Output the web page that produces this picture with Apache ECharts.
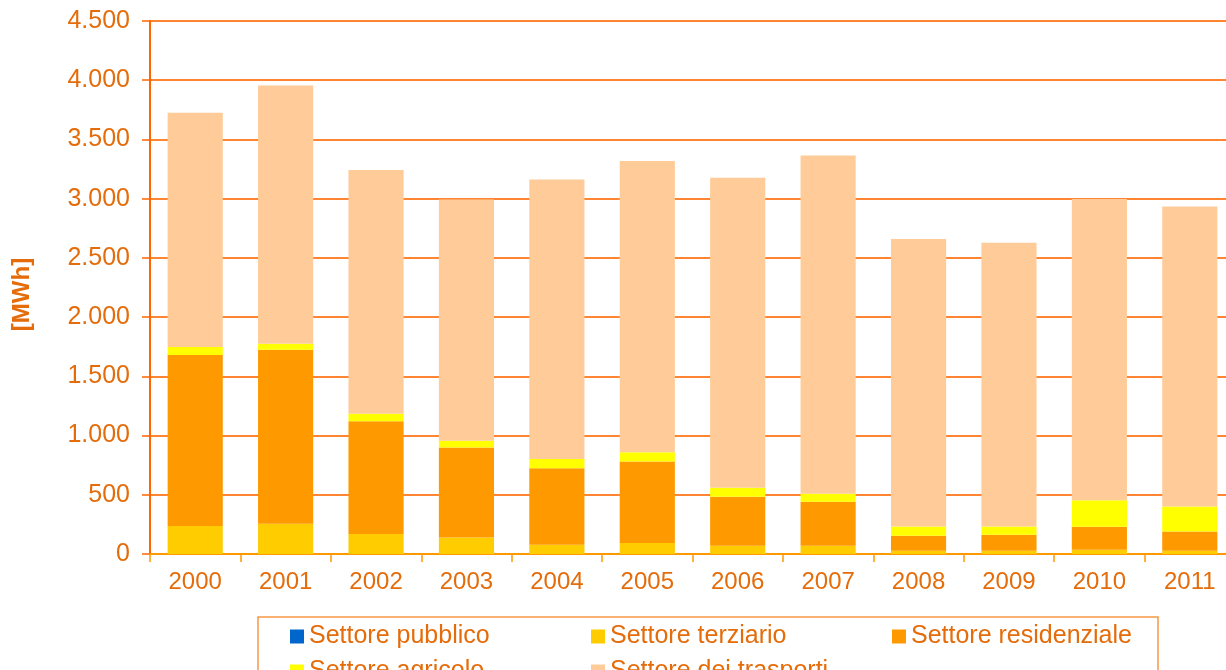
<!DOCTYPE html>
<html>
<head>
<meta charset="utf-8">
<script src="https://cdn.jsdelivr.net/npm/echarts@6/dist/echarts.min.js"></script>
<style>
  html, body { margin: 0; padding: 0; background: #fff; overflow: hidden; }
  #chart { width: 1245px; height: 670px; }
</style>
</head>
<body>
<div id="chart"></div>
<script>
// anni
const years = ['2000', '2001', '2002', '2003', '2004', '2005', '2006', '2007', '2008', '2009', '2010', '2011'];
// consumi per settore [MWh]
const pubblico     = [0, 0, 0, 0, 0, 0, 0, 0, 0, 0, 0, 0];
const terziario    = [236, 256, 169, 140, 79, 93, 70, 70, 28, 28, 36, 28];
const residenziale = [1445, 1469, 951, 760, 644, 689, 414, 372, 127, 135, 195, 163];
const agricolo     = [67, 51, 65, 57, 79, 76, 76, 67, 78, 70, 222, 209];
const trasporti    = [1977, 2179, 2058, 2035, 2359, 2461, 2616, 2855, 2427, 2394, 2545, 2533];

const orange = '#E46C0A';
const font = 'Liberation Sans, Arial, sans-serif';

var myChart = echarts.init(document.getElementById('chart'));

function fmt(v) {
  // separatore migliaia con il punto
  return String(v).replace(/\B(?=(\d{3})+(?!\d))/g, '.');
}

function bar(name, data, color) {
  return {
    name: name,
    type: 'bar',
    stack: 'tot',
    data: data,
    barCategoryGap: '39%',
    itemStyle: { color: color },
    emphasis: { disabled: true }
  };
}

var option = {
  backgroundColor: '#fff',
  animation: false,
  grid: {
    left: 150,
    top: 21,
    width: 1085,
    height: 533
  },
  graphic: [{
    type: 'rect',
    shape: { x: 258, y: 617, width: 900, height: 80 },
    style: { fill: 'none', stroke: '#F79646', lineWidth: 1.5 },
    silent: true
  }],
  legend: {
    left: 285,
    top: 619,
    width: 930,
    itemWidth: 14,
    itemHeight: 14,
    itemGap: 10,
    icon: 'rect',
    textStyle: {
      color: orange,
      fontFamily: font,
      fontSize: 25,
      width: 272,
      lineHeight: 16
    },
    data: ['Settore pubblico', 'Settore terziario', 'Settore residenziale', 'Settore agricolo', 'Settore dei trasporti']
  },
  xAxis: {
    type: 'category',
    data: years,
    boundaryGap: true,
    axisLine: { show: true, lineStyle: { color: '#FF9900', width: 2 } },
    axisTick: { show: true, length: 8, alignWithLabel: false, lineStyle: { color: '#FF9900', width: 1.5 } },
    axisLabel: {
      color: orange,
      fontFamily: font,
      fontSize: 24,
      margin: 16
    },
    splitLine: { show: false }
  },
  yAxis: {
    type: 'value',
    min: 0,
    max: 4500,
    interval: 500,
    name: '[MWh]',
    nameLocation: 'middle',
    nameRotate: 90,
    nameGap: 116,
    nameTextStyle: {
      color: orange,
      fontFamily: font,
      fontSize: 24,
      fontWeight: 'bold',
      padding: [0, 14, 0, 0]
    },
    axisLine: { show: true, lineStyle: { color: '#FF6600', width: 2 } },
    axisTick: { show: true, length: 8, lineStyle: { color: '#FF6600', width: 1.5 } },
    axisLabel: {
      color: orange,
      fontFamily: font,
      fontSize: 25,
      margin: 20,
      formatter: fmt
    },
    splitLine: { show: true, lineStyle: { color: '#FF8533', width: 2 } }
  },
  series: [
    bar('Settore pubblico', pubblico, '#0066CC'),
    bar('Settore terziario', terziario, '#FFCC00'),
    bar('Settore residenziale', residenziale, '#FF9900'),
    bar('Settore agricolo', agricolo, '#FFFF00'),
    bar('Settore dei trasporti', trasporti, '#FFCC99')
  ]
};

myChart.setOption(option);
</script>
</body>
</html>
